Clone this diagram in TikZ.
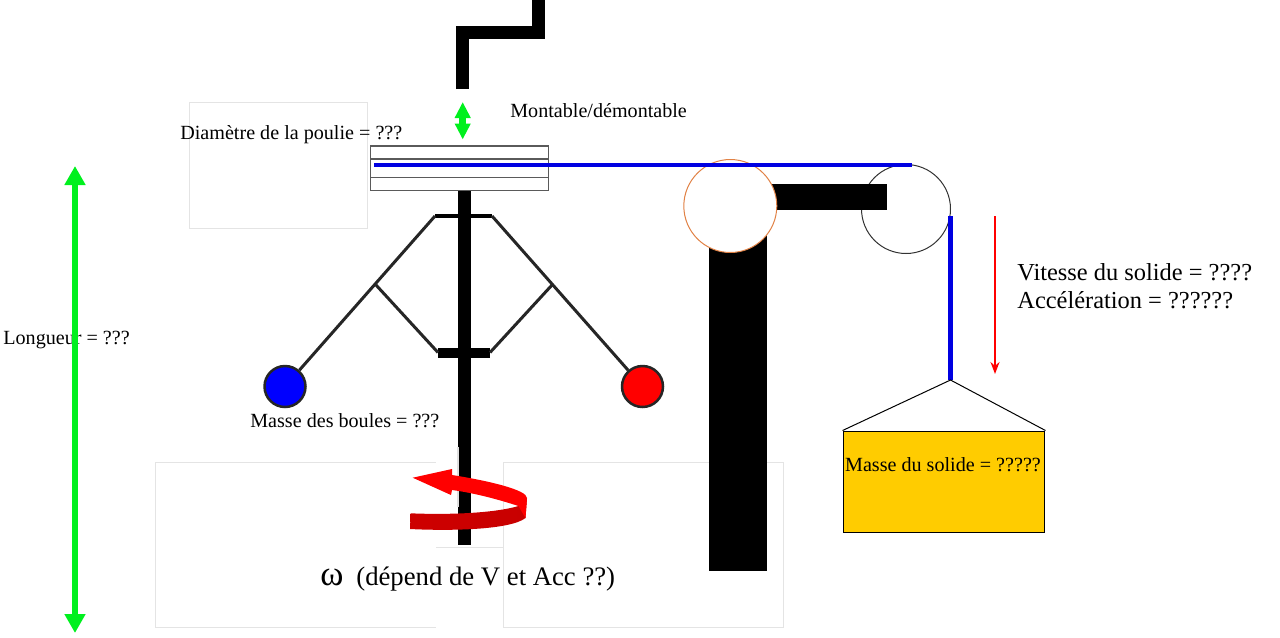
\documentclass[tikz,border=0pt]{standalone}
\usepackage{fontspec}
\setmainfont{Liberation Serif}
\usepackage{xcolor}
\usetikzlibrary{arrows.meta,positioning}
\definecolor{faint}{RGB}{228,228,228}
\definecolor{pulleyline}{RGB}{90,90,90}
\definecolor{rope}{RGB}{0,0,225}
\definecolor{solid}{RGB}{255,204,0}
\definecolor{lime}{RGB}{0,240,30}
\definecolor{rim}{RGB}{225,130,70}
\definecolor{darkband}{RGB}{200,0,0}

\begin{document}
\begin{tikzpicture}[x=0.02cm, y=-0.02cm,
      lbl/.style={anchor=west, inner sep=0pt, font=\fontsize{11.45}{13}\selectfont},
      biglbl/.style={anchor=west, inner sep=0pt, font=\fontsize{13.9}{15}\selectfont},
      sheet/.style={draw=faint, line width=0.02cm},
      shaft/.style={fill=black},
      link/.style={draw=black!85, line width=0.06cm},
      ball/.style={circle, draw=black!85, line width=0.05cm, minimum size=0.82cm, inner sep=0pt},
      wheel/.style={circle, line width=0.02cm, minimum size=1.78cm, inner sep=0pt},
      updown/.style={lime, {Triangle[length=0.32cm,width=0.3cm]}-{Triangle[length=0.32cm,width=0.3cm]}}]
    \useasboundingbox (0,0) rectangle (1280,637);
    % faint sheets behind the drawing
    \draw[sheet] (436,462) -- (155,462) -- (155,627) -- (436,627);
    \draw[sheet] (503,462) rectangle (783,627);
    \draw[sheet] (436,547) -- (503,547);
    \draw[sheet] (189,102) rectangle (367,228);
    % crank
    \draw[line width=0.26cm, miter limit=10] (462.5,89) -- (462.5,32.5) -- (538.5,32.5) -- (538.5,0);
    % spindle
    \fill[shaft] (457.5,190) rectangle (470.5,545);
    \fill[black!12] (457,447) rectangle (458.5,507);
    \coordinate (hubL) at (435,216);
    \coordinate (hubR) at (492,216);
    \coordinate (sleeveL) at (438,352.5);
    \coordinate (sleeveR) at (490,352.5);
    \coordinate (kneeL) at (376,285);
    \coordinate (kneeR) at (552,285);
    \draw[line width=0.09cm] (hubL) -- (hubR);
    \draw[line width=0.2cm] (sleeveL) -- (sleeveR);
    \node[ball, fill=blue] (ballL) at (285,386.5) {};
    \node[ball, fill=red] (ballR) at (642.5,386.5) {};
    \draw[link] (hubL) -- (ballL);
    \draw[link] (hubR) -- (ballR);
    \draw[link] (kneeL) -- (sleeveL);
    \draw[link] (kneeR) -- (sleeveR);
    % pulley on the spindle
    \node[draw=pulleyline, line width=0.03cm, minimum width=3.56cm, minimum height=0.885cm, inner sep=0pt] (poulie) at (459.3,168.2) {};
    \draw[pulleyline, line width=0.03cm] (370.3,159) -- (548.3,159);
    \draw[pulleyline, line width=0.03cm] (370.3,177.3) -- (548.3,177.3);
    % post and its two wheels
    \fill[shaft] (709,225) rectangle (767,571);
    \node[wheel, draw=black!80] (wheelR) at (906,209) {};
    \fill[shaft] (770,183.5) rectangle (887,209.5);
    \node[wheel, draw=rim, fill=white, minimum size=1.86cm] (wheelL) at (730.3,206) {};
    % rope
    \coordinate (ropeA) at (374,165);
    \coordinate (ropeB) at (912,165);
    \coordinate (ropeC) at (950.5,216);
    \coordinate (ropeD) at (950.5,380);
    \draw[rope, line width=0.07cm] (ropeA) -- (ropeB);
    \draw[rope, line width=0.11cm] (ropeC) -- (ropeD);
    % load
    \node[draw=black, fill=solid, line width=0.02cm, minimum width=4.04cm, minimum height=2.02cm, inner sep=0pt] (solide) at (944,481.5) {};
    \draw[line width=0.02cm] (solide.north west) -- (ropeD) -- (solide.north east);
    \node[lbl, anchor=center] (massesolide) at (943,465) {Masse du solide = ?????};
    \coordinate (vtop) at (995,216);
    \coordinate (vbot) at (995,374);
    \draw[red, line width=0.045cm, -{Stealth[length=0.24cm,width=0.18cm]}] (vtop) -- (vbot);
    % labels
    \node[lbl] (diametre) at (180,134.5) {Diamètre de la poulie = ???};
    \node[lbl] (montable) at (510,110.5) {Montable/démontable};
    \node[lbl] (longueur) at (3,339.5) {Longueur = ???};
    \node[lbl] (masseboules) at (250,420.5) {Masse des boules = ???};
    \node[biglbl] (vitesse) at (1017,272) {Vitesse du solide = ????};
    \node[biglbl] (acceleration) at (1017,300) {Accélération = ??????};
    \node[anchor=base west, inner sep=0pt, font=\fontsize{20}{22}\selectfont] (omega) at (320,585) {ω};
    \node[anchor=base west, inner sep=0pt, font=\fontsize{15.2}{17}\selectfont] (depend) at (356,585) {(dépend de V et Acc ??)};
    % green arrows
    \coordinate (lgtop) at (75,166);
    \coordinate (lgbot) at (75,633);
    \draw[updown, line width=0.11cm, {Triangle[length=0.38cm,width=0.4cm]}-{Triangle[length=0.38cm,width=0.4cm]}] (lgtop) -- (lgbot);
    \coordinate (mdtop) at (462.7,102);
    \coordinate (mdbot) at (462.7,139.5);
    \draw[updown, line width=0.15cm] (mdtop) -- (mdbot);
    % rotation arrow
    \shade[left color=darkband!90!red, right color=darkband] (410,529) .. controls (450,531) and (510,530) .. (525.5,518) -- (527,498) -- (518.5,506) .. controls (495,513) and (450,515) .. (410.6,513.3) -- cycle;
    \fill[red] (412.7,477.7) -- (452,469) -- (452,475) .. controls (490,481) and (527,490) .. (527,498) -- (525.5,518) -- (518.5,506) .. controls (500,500) and (475,493) .. (452,490) -- (451,495) -- cycle;
  \end{tikzpicture}
\end{document}
